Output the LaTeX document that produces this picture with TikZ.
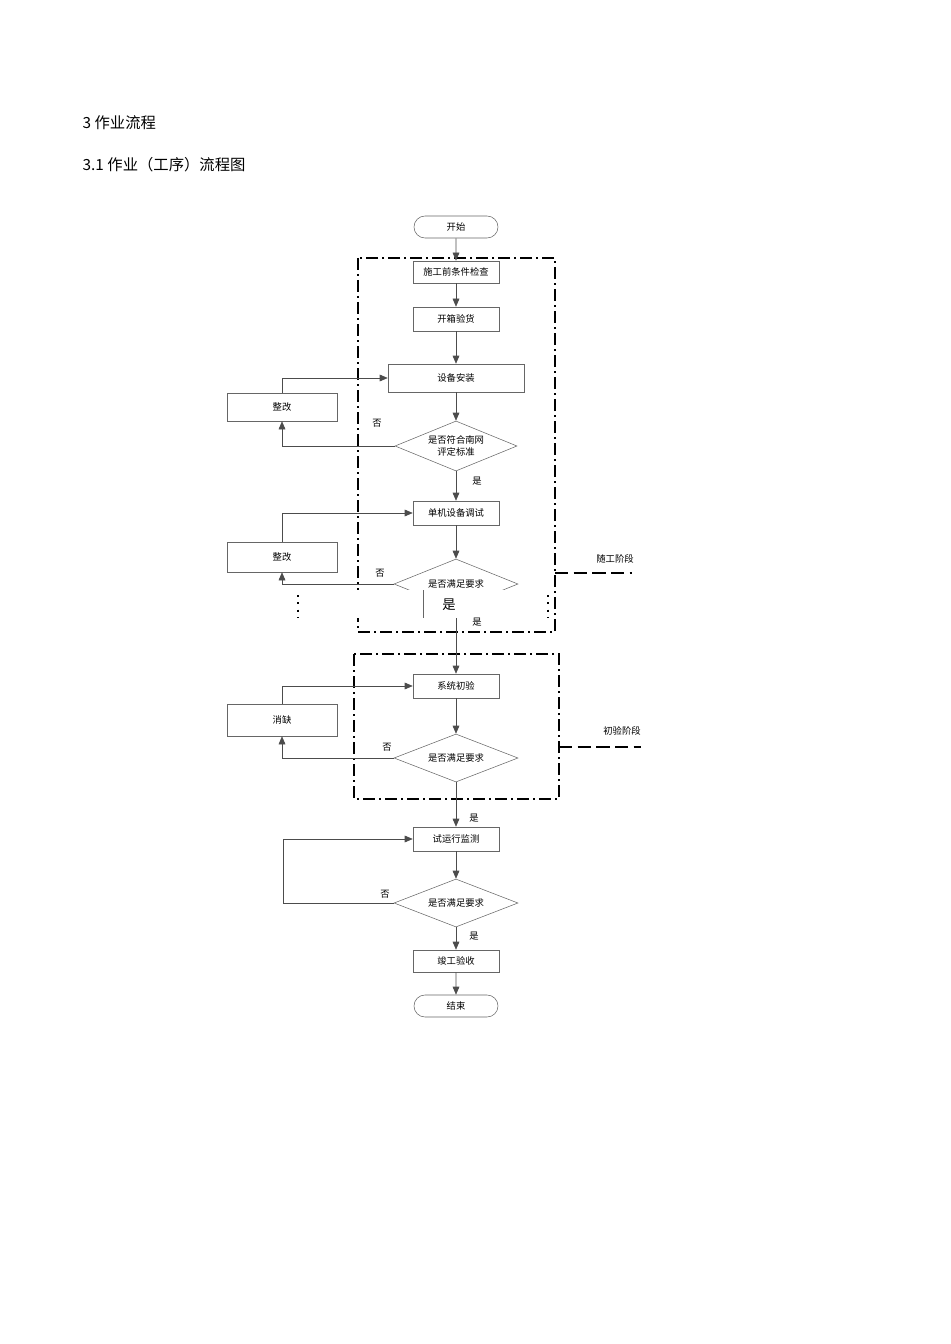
\documentclass[tikz,border=0pt]{standalone}
\usepackage{fontspec}
\setmainfont{Liberation Sans}
\newfontfamily\cjk{Noto Sans CJK SC}
\usetikzlibrary{shapes.geometric,shapes.misc,arrows.meta}
\begin{document}
\begin{tikzpicture}[x=0.75pt,y=-0.75pt,
  box/.style={draw=black!60,minimum width=86*0.75pt,minimum height=24*0.75pt,inner sep=0pt,font=\cjk\fontsize{7}{8}\selectfont},
  term/.style={box,rounded rectangle},
  dec/.style={draw=black!60,diamond,aspect=2.5,inner sep=0pt,font=\cjk\fontsize{7}{8.5}\selectfont,align=center},
  flow/.style={draw=black!70,-{Triangle[width=5pt,length=6pt]}},
  lab/.style={font=\cjk\fontsize{7}{8}\selectfont},
  frame/.style={draw,line width=1.2pt,dash pattern=on 9pt off 3pt on 1.5pt off 3pt}]
  \useasboundingbox (0,0) rectangle (950,1344);
  \node[anchor=west,font=\cjk\fontsize{11.5}{13}\selectfont] at (78,123) {3 作业流程};
  \node[anchor=west,font=\cjk\fontsize{11.5}{13}\selectfont] at (78,165) {3.1 作业（工序）流程图};

  % frames
  \draw[frame] (358,258) rectangle (555,632);
  \draw[frame] (354,654) rectangle (559,799);
  \draw[dashed,line width=1pt,dash pattern=on 10pt off 4pt] (555,573) -- (632,573);
  \draw[dashed,line width=1pt,dash pattern=on 10pt off 4pt] (559,747) -- (641,747);
  \node[lab] at (615,559) {随工阶段};
  \node[lab] at (622,731) {初验阶段};

  % main column
  \node[term,minimum width=84*0.75pt,minimum height=22*0.75pt] (start) at (456,227) {开始};
  \node[box,minimum height=22*0.75pt] (check) at (456,272) {施工前条件检查};
  \node[box] (unpack) at (456,319) {开箱验货};
  \node[box,minimum width=136*0.75pt,minimum height=28*0.75pt] (install) at (456,378) {设备安装};
  \node[dec,minimum width=122*0.75pt,minimum height=50*0.75pt] (std) at (456,446) {是否符合南网\\评定标准};
  \node[box] (single) at (456,513) {单机设备调试};
  \node[dec,minimum width=124*0.75pt,minimum height=50*0.75pt] (req1) at (456,584) {是否满足要求};
  \node[box] (sysck) at (456,686) {系统初验};
  \node[dec,minimum width=124*0.75pt,minimum height=48*0.75pt] (req2) at (456,758) {是否满足要求};
  \node[box] (trial) at (456,839) {试运行监测};
  \node[dec,minimum width=124*0.75pt,minimum height=48*0.75pt] (req3) at (456,903) {是否满足要求};
  \node[box,minimum height=22*0.75pt] (accept) at (456,961) {竣工验收};
  \node[term,minimum width=84*0.75pt,minimum height=22*0.75pt] (finish) at (456,1006) {结束};

  % side boxes
  \node[box,minimum width=110*0.75pt,minimum height=28*0.75pt] (fixA) at (282,407) {整改};
  \node[box,minimum width=110*0.75pt,minimum height=30*0.75pt] (fixB) at (282,557) {整改};
  \node[box,minimum width=110*0.75pt,minimum height=32*0.75pt] (fixC) at (282,720) {消缺};

  \draw[flow] (start) -- (check);
  \draw[flow] (check) -- (unpack);
  \draw[flow] (unpack) -- (install);
  \draw[flow] (install) -- (std);
  \draw[flow] (std) -- (single);
  \draw[flow] (single) -- (req1);
  \draw[flow] (req1) -- (sysck);
  \draw[flow] (sysck) -- (req2);
  \draw[flow] (req2) -- (trial);
  \draw[flow] (trial) -- (req3);
  \draw[flow] (req3) -- (accept);
  \draw[flow] (accept) -- (finish);

  \draw[flow] (std.west) -| (fixA.south);
  \draw[flow] (fixA.north) |- (install.west);
  \draw[flow] (req1.west) -| (fixB.south);
  \draw[flow] (fixB.north) |- (single.west);
  \draw[flow] (req2.west) -| (fixC.south);
  \draw[flow] (fixC.north) |- (sysck.west);
  \draw[flow] (req3.west) -- ++(-110,0) |- (trial.west);

  % scan gap
  \fill[white] (296,590) rectangle (552,618);
  \draw[black!60] (423,590) -- (423,618);
  \draw[line width=1.2pt,dash pattern=on 1.5pt off 4pt] (298,595) -- (298,618);
  \draw[line width=1.2pt,dash pattern=on 1.5pt off 4pt] (548,595) -- (548,618);
  \node[font=\cjk\fontsize{10}{11}\selectfont] at (449,605) {是};

  \node[lab] at (377,423) {否};
  \node[lab] at (477,481) {是};
  \node[lab] at (380,573) {否};
  \node[lab] at (477,622) {是};
  \node[lab] at (387,747) {否};
  \node[lab] at (474,818) {是};
  \node[lab] at (385,894) {否};
  \node[lab] at (474,936) {是};
\end{tikzpicture}
\end{document}
